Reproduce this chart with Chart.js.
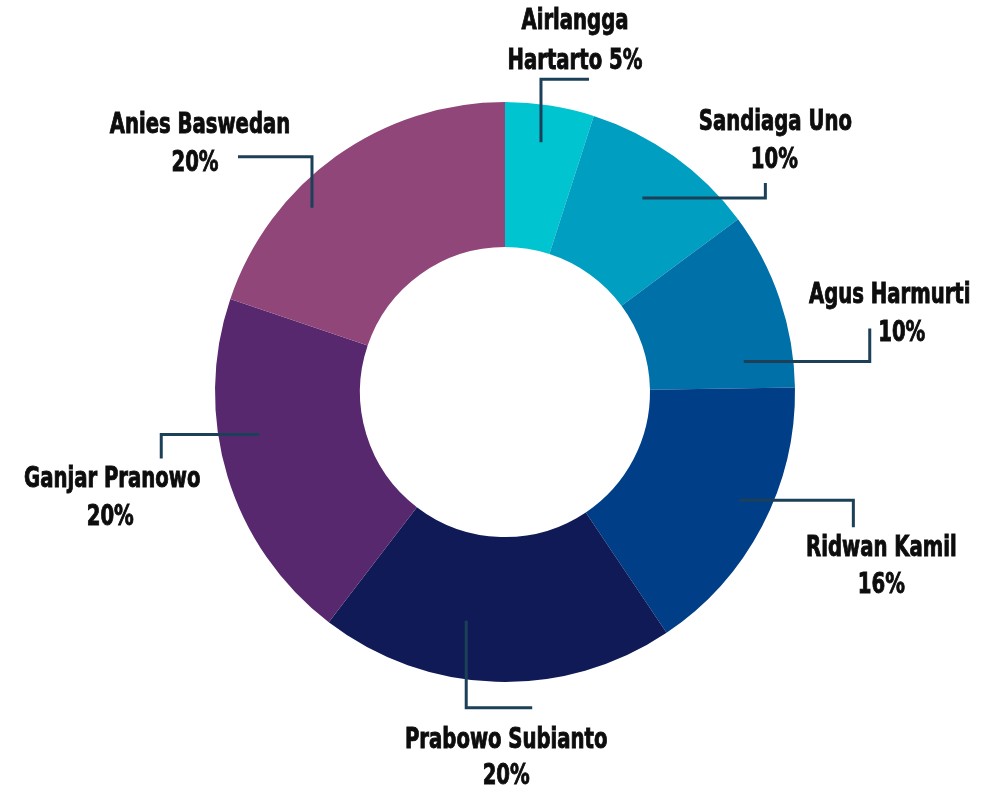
<!DOCTYPE html>
<html>
<head>
<meta charset="utf-8">
<script src="https://cdn.jsdelivr.net/npm/chart.js@4.4.0/dist/chart.umd.min.js"></script>
<style>
  html, body { margin: 0; padding: 0; background: #fff; }
  #wrap { width: 999px; height: 787px; }
</style>
</head>
<body>
<div id="wrap"><canvas id="myChart"></canvas></div>
<script>
// candidates and their share (%)
var names = ['Airlangga Hartarto', 'Sandiaga Uno', 'Agus Harmurti', 'Ridwan Kamil',
             'Prabowo Subianto', 'Ganjar Pranowo', 'Anies Baswedan'];
var shares = [5, 10, 10, 16, 20, 20, 20];
var labelLines = [
    ['Airlangga', 'Hartarto 5%'],
    ['Sandiaga Uno', '10%'],
    ['Agus Harmurti', '10%'],
    ['Ridwan Kamil', '16%'],
    ['Prabowo Subianto', '20%'],
    ['Ganjar Pranowo', '20%'],
    ['Anies Baswedan', '20%']
];
var colors = ['#00c4cf', '#009fc2', '#0070a8', '#003f87', '#0f1a56', '#58286f', '#904679'];

// leader layout: t = position within the slice, r = fraction of outer radius,
// path = relative moves, text = [dx, dy] per line relative to path end
var leaders = [
    { t: 0.46, r: 0.87, path: [['v', -63], ['h', 48]],  text: [[-14, -50], [-14, -10]] },
    { t: 0.49, r: 0.82, path: [['h', 123], ['v', -15]], text: [[10, -53], [9, -15]] },
    { t: 0.82, r: 0.83, path: [['h', 126], ['v', -33]], text: [[20, -25], [32, 13]] },
    { t: 0.45, r: 0.89, path: [['h', 114], ['v', 27]],  text: [[28, 29], [28, 66]] },
    { t: 0.61, r: 0.80, path: [['v', 87], ['h', 66]],   text: [[-26, 40], [-26, 76]] },
    { t: 0.60, r: 0.86, path: [['h', -98], ['v', 24]],  text: [[-49, 29], [-51, 67]] },
    { t: 0.35, r: 0.92, path: [['v', -51], ['h', -74]], text: [[-38, -24], [-43, 14]] }
];

// the original uses a narrow display face; squeeze a condensed one horizontally
var squeeze = 0.78;

var leaderLabels = {
    id: 'leaderLabels',
    afterDatasetsDraw: function (chart) {
        var ctx = chart.ctx;
        var arcs = chart.getDatasetMeta(0).data;
        ctx.save();
        arcs.forEach(function (arc, i) {
            var p = arc.getProps(['x', 'y', 'startAngle', 'endAngle', 'outerRadius'], true);
            var spec = leaders[i];
            var a = p.startAngle + (p.endAngle - p.startAngle) * spec.t;
            var x = p.x + Math.cos(a) * p.outerRadius * spec.r;
            var y = p.y + Math.sin(a) * p.outerRadius * spec.r;
            ctx.beginPath();
            ctx.moveTo(x, y);
            spec.path.forEach(function (m) {
                if (m[0] === 'h') x += m[1]; else y += m[1];
                ctx.lineTo(x, y);
            });
            ctx.strokeStyle = '#1d4059';
            ctx.lineWidth = 3;
            ctx.lineJoin = 'miter';
            ctx.stroke();

            ctx.fillStyle = '#0d0d0d';
            ctx.strokeStyle = '#0d0d0d';
            ctx.lineWidth = 0.9;
            ctx.font = 'bold 28px "DejaVu Sans Condensed", "DejaVu Sans", sans-serif';
            ctx.textAlign = 'center';
            ctx.textBaseline = 'alphabetic';
            labelLines[i].forEach(function (line, k) {
                ctx.save();
                ctx.translate(x + spec.text[k][0], y + spec.text[k][1]);
                ctx.scale(squeeze, 1);
                ctx.fillText(line, 0, 0);
                ctx.strokeText(line, 0, 0);
                ctx.restore();
            });
        });
        ctx.restore();
    }
};

var ctx = document.getElementById('myChart');
var myDoughnut = new Chart(ctx, {
    type: 'doughnut',
    data: {
        labels: names,
        datasets: [{
            data: shares,
            backgroundColor: colors,
            borderWidth: 0
        }]
    },
    options: {
        responsive: true,
        maintainAspectRatio: false,
        animation: false,
        cutout: '50%',
        layout: { padding: { left: 215, right: 204, top: 102, bottom: 105 } },
        plugins: {
            legend: { display: false },
            tooltip: { enabled: false }
        }
    },
    plugins: [leaderLabels]
});
</script>
</body>
</html>
